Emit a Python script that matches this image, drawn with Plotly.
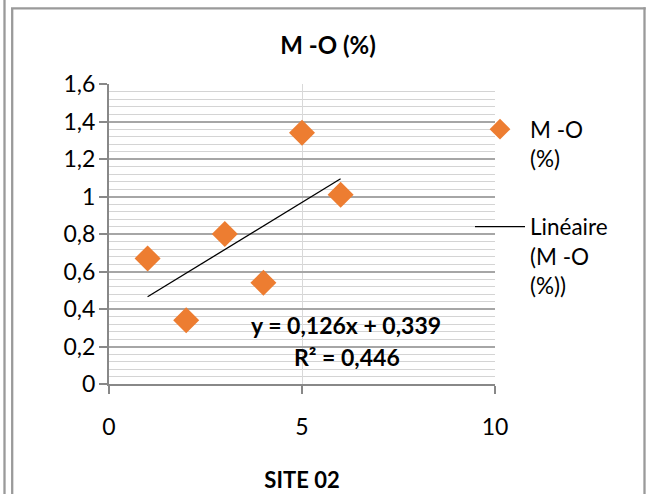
import plotly.graph_objects as go

# Sample sites (x) and organic matter content M-O (%) (y)
sites = [1, 2, 3, 4, 5, 6]
mo_percent = [0.67, 0.34, 0.80, 0.54, 1.34, 1.01]

# Linear trend reported for the series
slope = 0.126
intercept = 0.339
r_squared = 0.446

x_ticks = [0, 5, 10]
y_ticks = [0, 0.2, 0.4, 0.6, 0.8, 1.0, 1.2, 1.4, 1.6]

FONT = "Lato"
ORANGE = "#ED7D31"

# Plot area geometry (pixels)
W, H = 654, 494
L, R, T, B = 109, 159, 84, 110
PW, PH = W - L - R, H - T - B


def px_x(p):
    return (p - L) / PW


def px_y(p):
    return (H - B - p) / PH


def fmt(v):
    return f"{v:.3f}".replace(".", ",")


trend_x = [min(sites), max(sites)]
trend_y = [slope * x + intercept for x in trend_x]

fig = go.Figure()
fig.add_trace(go.Scatter(
    x=sites, y=mo_percent, mode="markers", name="M -O<br>(%)",
    marker=dict(symbol="diamond", size=20, color=ORANGE),
    legendgroup="a",
))
fig.add_trace(go.Scatter(
    x=trend_x, y=trend_y, mode="lines", name="Linéaire<br>(M -O<br>(%))",
    line=dict(color="black", width=1.3),
    legendgroup="b",
))

# Equation of the trend line
eq_font = dict(family=FONT, size=23, color="black")
fig.add_annotation(
    x=px_x(346), y=px_y(325), xref="paper", yref="paper",
    xanchor="center", yanchor="middle",
    text=f"<b>y = {fmt(slope)}x + {fmt(intercept)}</b>", showarrow=False,
    font=eq_font,
)
fig.add_annotation(
    x=px_x(347), y=px_y(357), xref="paper", yref="paper",
    xanchor="center", yanchor="middle",
    text=f"<b>R² = {fmt(r_squared)}</b>", showarrow=False,
    font=eq_font,
)

# Chart frame
frame = dict(color="#9a9a9a", width=2.3)
fig.add_shape(type="line", xref="paper", yref="paper",
              x0=px_x(4.5), x1=px_x(4.5), y0=px_y(-5), y1=px_y(H + 5), line=frame)
fig.add_shape(type="line", xref="paper", yref="paper",
              x0=px_x(12.2), x1=px_x(12.2), y0=px_y(8.3), y1=px_y(H + 5), line=frame)
fig.add_shape(type="line", xref="paper", yref="paper",
              x0=px_x(11), x1=px_x(645.7), y0=px_y(8.3), y1=px_y(8.3), line=frame)
fig.add_shape(type="line", xref="paper", yref="paper",
              x0=px_x(644.5), x1=px_x(644.5), y0=px_y(7.2), y1=px_y(H + 5), line=frame)

tick_font = dict(family=FONT, size=23, color="black")

fig.update_layout(
    width=W, height=H,
    margin=dict(l=L, r=R, t=T, b=B, autoexpand=False),
    paper_bgcolor="white", plot_bgcolor="white",
    separators=", ",
    font=dict(family=FONT, size=23, color="black"),
    title=dict(text="<b>M -O (%)</b>", x=328 / W, xref="container", xanchor="center",
               y=1 - 46 / H, yref="container", yanchor="middle",
               font=dict(family=FONT, size=24, color="black")),
    showlegend=True,
    legend=dict(
        x=px_x(470), y=px_y(108), xanchor="left", yanchor="top",
        bgcolor="rgba(0,0,0,0)", borderwidth=0,
        font=dict(family=FONT, size=22.5, color="black"),
        valign="top", tracegroupgap=36, itemwidth=50,
    ),
    xaxis=dict(
        range=[0, 10], tickvals=x_ticks, ticks="outside", ticklen=8,
        tickcolor="#888888", tickwidth=2,
        showline=True, linecolor="#888888", linewidth=2,
        showgrid=True, gridcolor="#d9d9d9", gridwidth=1, zeroline=False,
        tickfont=tick_font,
        ticklabelstandoff=13,
        title=dict(text="<b>SITE 02</b>", standoff=34,
                   font=dict(family=FONT, size=22, color="black")),
    ),
    yaxis=dict(
        range=[0, 1.6], tickvals=y_ticks, ticks="outside", ticklen=8,
        tickcolor="#888888", tickwidth=2,
        showline=True, linecolor="#888888", linewidth=2,
        showgrid=True, gridcolor="#a6a6a6", gridwidth=1.5, zeroline=False,
        tickfont=tick_font,
        ticklabelstandoff=-1,
        minor=dict(dtick=0.04, showgrid=True, gridcolor="#d4d4d4", gridwidth=1.2,
                   ticks=""),
    ),
)

fig.write_html("out.html")
